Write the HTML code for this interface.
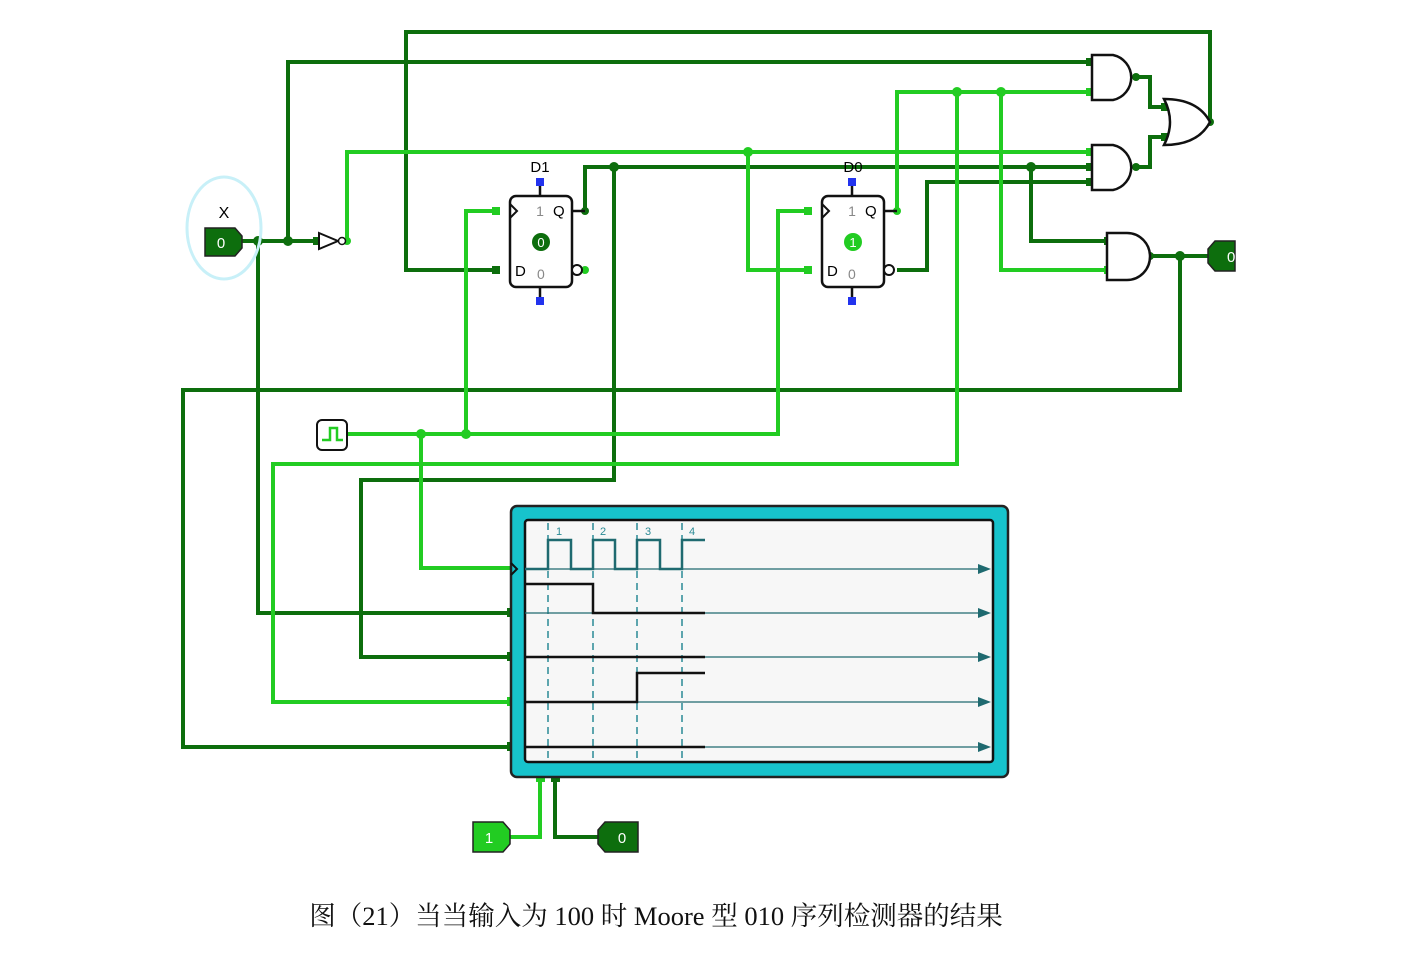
<!DOCTYPE html>
<html><head><meta charset="utf-8"><style>
body{margin:0;background:#fff;width:1407px;height:960px;overflow:hidden}
svg{position:absolute;left:0;top:0}
.cap{position:absolute;left:0;width:1312px;top:894px;text-align:center;font:26.5px "Liberation Serif","Noto Serif CJK SC",serif;color:#111;white-space:nowrap}
</style></head><body>
<svg width="1407" height="960" viewBox="0 0 1407 960" font-family="Liberation Sans, sans-serif">
<g fill="none" stroke-width="4" stroke-linejoin="miter">
<g stroke="#0d6e0d">
<path d="M242 241H318"/>
<path d="M288 241V62H1090"/>
<path d="M258 241V613H512"/>
<path d="M496 270H406V32H1210V122"/>
<path d="M585 211V167H1090"/>
<path d="M614 167V480H361V657H512"/>
<path d="M897 270H927V182H1090"/>
<path d="M1031 167V241H1108"/>
<path d="M1136 77H1150V107H1165"/>
<path d="M1136 167H1150V137H1165"/>
<path d="M1150 256H1215"/>
<path d="M1180 256V390H183V747H512"/>
<path d="M598 837H555V777"/>
</g>
<g stroke="#22cc22">
<path d="M347 241V152H1090"/>
<path d="M748 152V270H808"/>
<path d="M345 434H778V211H808"/>
<path d="M466 434V211H496"/>
<path d="M421 434V568H512"/>
<path d="M897 211V92H1090"/>
<path d="M957 92V464H273V702H512"/>
<path d="M1001 92V270H1108"/>
<path d="M510 837H540V777"/>
</g>
</g>
<g fill="#0d6e0d">
<circle cx="258" cy="241" r="5"/><circle cx="288" cy="241" r="5"/><circle cx="614" cy="167" r="5"/><circle cx="1031" cy="167" r="5"/><circle cx="1180" cy="256" r="5"/><circle cx="585" cy="211" r="4"/><circle cx="1136" cy="77" r="4"/><circle cx="1136" cy="167" r="4"/><circle cx="1150" cy="256" r="4"/><circle cx="1210" cy="122" r="4"/>
<rect x="1086" y="58" width="8" height="8"/><rect x="1086" y="163" width="8" height="8"/><rect x="1086" y="178" width="8" height="8"/><rect x="1104" y="237" width="8" height="8"/><rect x="1161" y="103" width="8" height="8"/><rect x="1161" y="133" width="8" height="8"/><rect x="492" y="266" width="8" height="8"/><rect x="313" y="237" width="8" height="8"/>
<rect x="507" y="608" width="9" height="9"/><rect x="507" y="652" width="9" height="9"/><rect x="507" y="742" width="9" height="9"/><rect x="551" y="773" width="9" height="9"/>
</g>
<g fill="#22cc22">
<circle cx="748" cy="152" r="5"/><circle cx="466" cy="434" r="5"/><circle cx="421" cy="434" r="5"/><circle cx="957" cy="92" r="5"/><circle cx="1001" cy="92" r="5"/><circle cx="897" cy="211" r="4"/><circle cx="347" cy="241" r="4"/><circle cx="585" cy="270" r="4"/>
<rect x="1086" y="88" width="8" height="8"/><rect x="1086" y="148" width="8" height="8"/><rect x="1104" y="266" width="8" height="8"/><rect x="492" y="207" width="8" height="8"/><rect x="804" y="207" width="8" height="8"/><rect x="804" y="266" width="8" height="8"/>
<rect x="507" y="697" width="9" height="9"/><rect x="536" y="773" width="9" height="9"/>
</g>
<ellipse cx="224" cy="228" rx="37" ry="51" fill="none" stroke="#c8f0f8" stroke-width="3"/>
<text x="224" y="218" font-size="16" text-anchor="middle">X</text>
<path d="M205 228H235L242 236V248L235 256H205Z" fill="#0d6e0d" stroke="#222" stroke-width="1.5"/>
<text x="221" y="248" font-size="15" fill="#fff" text-anchor="middle">0</text>
<path d="M319 233L338 241L319 249Z" fill="#fff" stroke="#111" stroke-width="2"/>
<circle cx="342" cy="241" r="3.5" fill="#fff" stroke="#111" stroke-width="1.5"/>
<g stroke="#111" stroke-width="2.5">
<line x1="540" y1="186" x2="540" y2="196"/><line x1="540" y1="287" x2="540" y2="297"/>
<line x1="572" y1="211" x2="585" y2="211"/>
<line x1="852" y1="186" x2="852" y2="196"/><line x1="852" y1="287" x2="852" y2="297"/>
<line x1="884" y1="211" x2="897" y2="211"/>
</g>
<rect x="536" y="178" width="8" height="8" fill="#2233ee"/><rect x="536" y="297" width="8" height="8" fill="#2233ee"/>
<rect x="848" y="178" width="8" height="8" fill="#2233ee"/><rect x="848" y="297" width="8" height="8" fill="#2233ee"/>
<rect x="510" y="196" width="62" height="91" rx="6" fill="#fff" stroke="#111" stroke-width="2.5"/>
<path d="M510 204L517 211L510 218" fill="none" stroke="#111" stroke-width="2"/>
<circle cx="577" cy="270" r="5" fill="#fff" stroke="#111" stroke-width="2"/>
<text x="540" y="172" font-size="15" text-anchor="middle">D1</text>
<text x="540" y="216" font-size="14" fill="#888" text-anchor="middle">1</text>
<text x="553" y="216" font-size="15">Q</text>
<text x="515" y="276" font-size="15">D</text>
<text x="537" y="279" font-size="14" fill="#888">0</text>
<circle cx="541" cy="242" r="9" fill="#0d6e0d"/><text x="541" y="247" font-size="13" fill="#fff" text-anchor="middle">0</text>
<rect x="822" y="196" width="62" height="91" rx="6" fill="#fff" stroke="#111" stroke-width="2.5"/>
<path d="M822 204L829 211L822 218" fill="none" stroke="#111" stroke-width="2"/>
<circle cx="889" cy="270" r="5" fill="#fff" stroke="#111" stroke-width="2"/>
<text x="853" y="172" font-size="15" text-anchor="middle">D0</text>
<text x="852" y="216" font-size="14" fill="#888" text-anchor="middle">1</text>
<text x="865" y="216" font-size="15">Q</text>
<text x="827" y="276" font-size="15">D</text>
<text x="848" y="279" font-size="14" fill="#888">0</text>
<circle cx="853" cy="242" r="9" fill="#22cc22"/><text x="853" y="247" font-size="13" fill="#fff" text-anchor="middle">1</text>
<g fill="#fff" stroke="#111" stroke-width="2.5">
<path d="M1092 55H1113A23 23 0 0 1 1113 100H1092Z"/>
<path d="M1092 145H1113A23 23 0 0 1 1113 190H1092Z"/>
<path d="M1107 233H1127A23 23.5 0 0 1 1127 280H1107Z"/>
<path d="M1164 99Q1176 122 1164 145Q1198 145 1210 122Q1198 99 1164 99Z"/>
</g>
<path d="M1215 241H1235V271H1215L1208 263V249Z" fill="#0d6e0d" stroke="#222" stroke-width="1.5"/>
<text x="1227" y="262" font-size="15" fill="#fff">0</text>
<rect x="317" y="420" width="30" height="30" rx="5" fill="#fff" stroke="#111" stroke-width="2"/>
<path d="M322 440H330V428H337V440H343" fill="none" stroke="#22cc22" stroke-width="2.5"/>
<rect x="511" y="506" width="497" height="271" rx="6" fill="#17c3cc" stroke="#222" stroke-width="2.5"/>
<rect x="525" y="520" width="468" height="242" rx="3" fill="#f7f7f7" stroke="#111" stroke-width="2.5"/>
<path d="M511 563L517 569L511 575" fill="none" stroke="#111" stroke-width="2"/>
<g stroke="#2a8a95" stroke-width="1.5" stroke-dasharray="7 5">
<line x1="548" y1="523" x2="548" y2="760"/><line x1="593" y1="523" x2="593" y2="760"/><line x1="637" y1="523" x2="637" y2="760"/><line x1="682" y1="523" x2="682" y2="760"/>
</g>
<g font-size="11" fill="#2a8a95"><text x="556" y="535">1</text><text x="600" y="535">2</text><text x="645" y="535">3</text><text x="689" y="535">4</text></g>
<g stroke="#1f6a70" stroke-width="1.2">
<line x1="525" y1="569" x2="982" y2="569"/><line x1="525" y1="613" x2="982" y2="613"/><line x1="525" y1="657" x2="982" y2="657"/><line x1="525" y1="702" x2="982" y2="702"/><line x1="525" y1="747" x2="982" y2="747"/>
</g>
<g fill="#1f6a70"><path d="M978 564L991 569L978 574Z"/><path d="M978 608L991 613L978 618Z"/><path d="M978 652L991 657L978 662Z"/><path d="M978 697L991 702L978 707Z"/><path d="M978 742L991 747L978 752Z"/></g>
<path d="M525 569H548V540H571V569H593V540H615V569H637V540H660V569H682V540H705" fill="none" stroke="#1f6a70" stroke-width="2.5"/>
<g fill="none" stroke="#111" stroke-width="2.5">
<path d="M525 584H593V613H705"/><path d="M525 657H705"/><path d="M525 702H637V673H705"/><path d="M525 747H705"/>
</g>
<path d="M473 822H503L510 830V844L503 852H473Z" fill="#22cc22" stroke="#222" stroke-width="1.5"/>
<text x="489" y="843" font-size="15" fill="#fff" text-anchor="middle">1</text>
<path d="M605 822H638V852H605L598 844V830Z" fill="#0d6e0d" stroke="#222" stroke-width="1.5"/>
<text x="622" y="843" font-size="15" fill="#fff" text-anchor="middle">0</text>
</svg>
<div class="cap">图（21）当当输入为 100 时 Moore 型 010 序列检测器的结果</div>
</body></html>
